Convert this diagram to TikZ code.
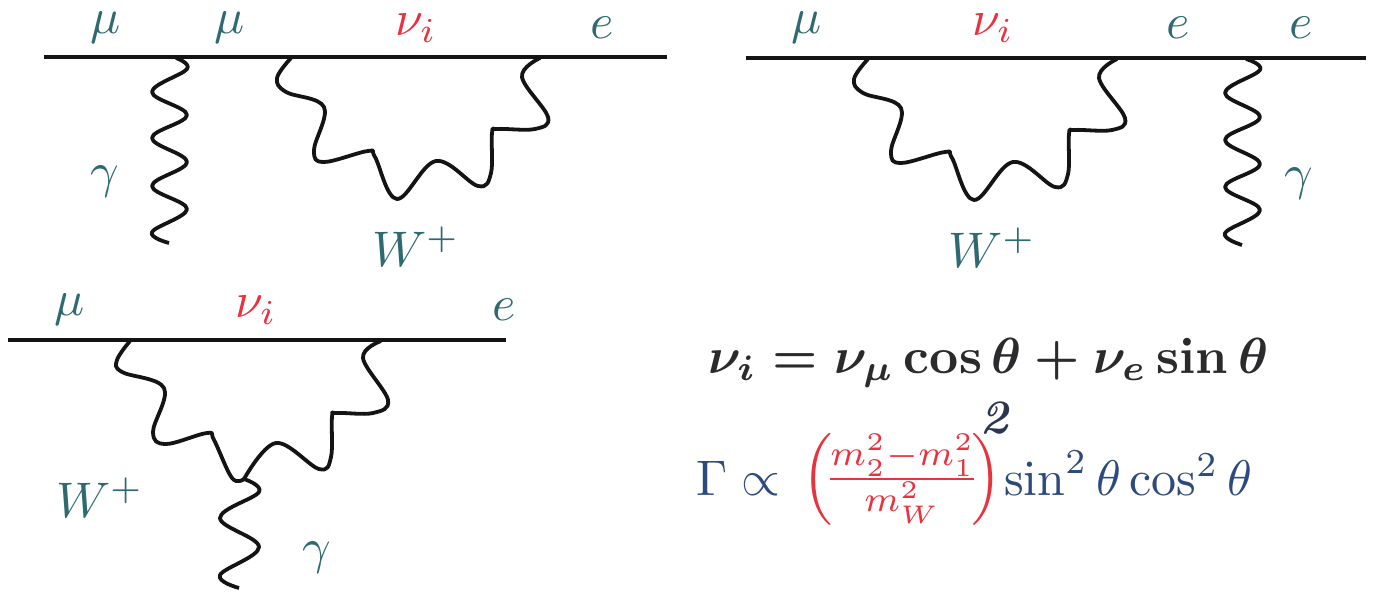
\documentclass[tikz,border=0pt]{standalone}
\usepackage{amsmath}
\usepackage{xcolor}
\definecolor{tealc}{HTML}{2F6A70}
\definecolor{redc}{HTML}{E8333F}
\definecolor{bluec}{HTML}{2D4A7E}
\definecolor{darkc}{HTML}{2B2B2E}
\definecolor{navyc}{HTML}{2C3550}
\newcommand{\eqone}{\mbox{\boldmath$\nu_i=\nu_\mu\cos\theta+\nu_e\sin\theta$}}
\newcommand{\eqtwo}{\mbox{\boldmath$\mathit{2}$}}
\tikzset{
  fermion/.style={line width=4pt,black!92},
  wavy/.style={line width=3.8pt,black!92,line cap=butt,line join=round,smooth,tension=0.62},
  lab/.style={inner sep=0pt,text=tealc,scale=5,transform shape},
  nulab/.style={lab,text=redc},
  eqnode/.style={inner sep=0pt,anchor=base west,scale=5,transform shape},
}
\begin{document}
\begin{tikzpicture}[x=1pt,y=-1pt]
\useasboundingbox (0,0) rectangle (1375,594);
% first diagram
\coordinate (a1) at (44,57); \coordinate (b1) at (667,57);
\coordinate (p1) at (176,58); \coordinate (l1) at (291,58); \coordinate (r1) at (540,58);
\draw[fermion] (a1) -- (b1);
\draw[wavy] plot coordinates {(p1) (187,69) (152,92) (187,115) (152,138) (187,162) (152,186) (187,209) (152,232) (169,243)};
\draw[wavy] plot coordinates {(l1) (277,78) (286,92) (324,107) (314,150) (324,162) (368,151) (375,157) (397,199) (436,161) (478,186) (491,173) (492,133) (498,129) (535,129) (548,117) (522,77) (r1)};
\node[lab] (m1) at (106,28) {$\mu$};
\node[lab] (m2) at (230,28) {$\mu$};
\node[nulab] (n1) at (416,28) {$\nu_i$};
\node[lab] (e1) at (602,28) {$e$};
\node[lab] (g1) at (105,182) {$\gamma$};
\node[lab] (w1) at (416,247) {$W^+$};
% second diagram
\coordinate (a2) at (746,58); \coordinate (b2) at (1366,58);
\coordinate (p2) at (1246,59); \coordinate (l2) at (868,59); \coordinate (r2) at (1117,59);
\draw[fermion] (a2) -- (b2);
\draw[wavy] plot coordinates {(p2) (1260,70) (1225,93) (1260,117) (1225,140) (1260,164) (1225,187) (1260,210) (1225,233) (1242,245)};
\draw[wavy] plot coordinates {(l2) (854,79) (863,93) (901,108) (891,151) (901,163) (945,152) (952,158) (974,200) (1013,162) (1055,187) (1068,174) (1069,134) (1075,130) (1112,130) (1125,118) (1099,78) (r2)};
\node[lab] (m3) at (807,28) {$\mu$};
\node[nulab] (n2) at (993,28) {$\nu_i$};
\node[lab] (e2) at (1178,28) {$e$};
\node[lab] (e3) at (1301,28) {$e$};
\node[lab] (g2) at (1299,184) {$\gamma$};
\node[lab] (w2) at (992,248) {$W^+$};
% third diagram
\coordinate (a3) at (8,340); \coordinate (b3) at (506,340);
\coordinate (l3) at (130,341); \coordinate (r3) at (381,341); \coordinate (v3) at (244,479);
\draw[fermion] (a3) -- (b3);
\draw[wavy] plot coordinates {(l3) (117,360) (122,372) (164,388) (153,432) (166,444) (207,433) (214,440) (232,478) (v3)};
\draw[wavy] plot coordinates {(v3) (276,443) (319,469) (331,457) (332,417) (337,413) (373,413) (388,400) (363,358) (r3)};
\draw[wavy] plot coordinates {(v3) (259,492) (220,518) (259,547) (220,575) (239,588)};
\node[lab] (m4) at (70,310) {$\mu$};
\node[nulab] (n3) at (256,310) {$\nu_i$};
\node[lab] (e4) at (504,310) {$e$};
\node[lab] (w3) at (100,498) {$W^+$};
\node[lab] (g3) at (317,558) {$\gamma$};
% equations
\node[eqnode,text=darkc,scale=1.014] (eqa) at (707,373) {\eqone};
\node[eqnode,text=bluec] (eqb) at (695,495) {$\Gamma\propto$};
\node[eqnode,text=redc,scale=1.02] (eqc) at (801,492) {$\left(\!\frac{m_2^2-m_1^2}{m_W^2}\!\right)$};
\node[eqnode,text=bluec] (eqd) at (1003,495) {$\sin^2\theta\cos^2\theta$};
\node[inner sep=0pt,text=navyc,scale=4.8,transform shape] (two) at (997,418) {\eqtwo};
\end{tikzpicture}
\end{document}
